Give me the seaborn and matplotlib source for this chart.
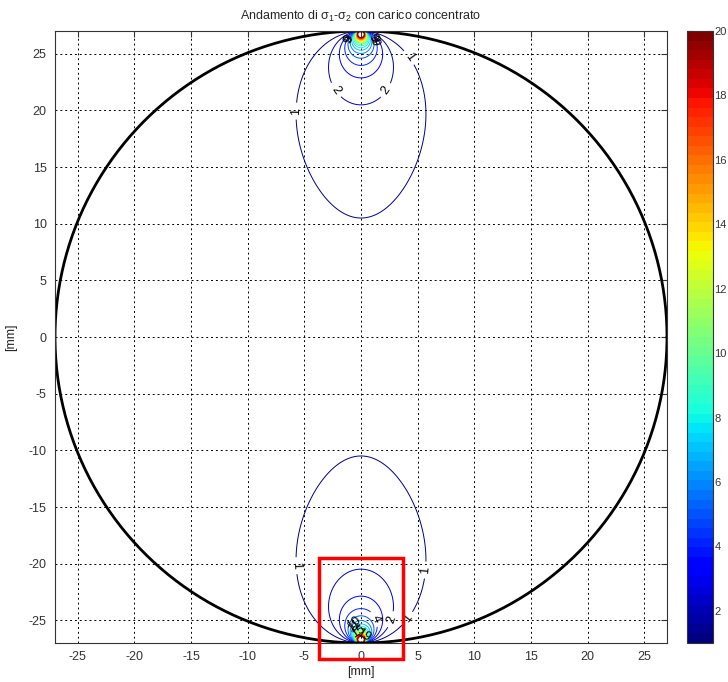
import numpy as np
import pandas as pd
import matplotlib
matplotlib.use("Agg")
import matplotlib.pyplot as plt
import seaborn as sns
from matplotlib.patches import Rectangle
from matplotlib.colors import Normalize

# ---- data / parameters ----
R = 27.0                 # disk radius [mm]
P_over_t = 18.0          # concentrated load per thickness [N/mm]
levels = list(range(1, 21))
tick_vals = [-25, -20, -15, -10, -5, 0, 5, 10, 15, 20, 25]
cbar_ticks = [2, 4, 6, 8, 10, 12, 14, 16, 18, 20]
label_pos_main = [(-8.2, 20.0), (5.3, 25.4), (-3.4, 21.0), (3.3, 21.0),
                  (-8.2, -20.3), (6.1, -20.6), (3.9, -24.7), (2.9, -25.0), (1.4, -24.8)]
label_pos_crowd = [(-1.6, 26.4), (-1.2, 26.4), (1.4, 26.4), (1.0, 26.4), (1.8, 26.2),
                   (-0.5, -25.6), (-0.3, -26.0), (0.2, -26.3), (-0.7, -25.2)]
title = r"Andamento di $\sigma_1$-$\sigma_2$ con carico concentrato"

# ---- stress field (Brazilian disk, diametral concentrated load) ----
g = np.linspace(-R, R, 1201)
X, Y = np.meshgrid(g, g)
K = 2 * P_over_t / np.pi
r1 = X**2 + (R - Y)**2
r2 = X**2 + (R + Y)**2
with np.errstate(divide="ignore", invalid="ignore"):
    sx = -K * ((R - Y) * X**2 / r1**2 + (R + Y) * X**2 / r2**2 - 1 / (2 * R))
    sy = -K * ((R - Y)**3 / r1**2 + (R + Y)**3 / r2**2 - 1 / (2 * R))
    txy = K * ((R - Y)**2 * X / r1**2 - (R + Y)**2 * X / r2**2)
    D = np.sqrt((sx - sy)**2 + 4 * txy**2)
D[X**2 + Y**2 > R**2] = np.nan
D = np.where(np.isfinite(D), D, np.nan)

sns.set_style("white")
plt.rcParams["font.family"] = ["Liberation Sans", "DejaVu Sans"]
plt.rcParams["mathtext.fontset"] = "custom"
plt.rcParams["mathtext.rm"] = "Liberation Sans"
plt.rcParams["mathtext.it"] = "Liberation Sans"
plt.rcParams["axes.unicode_minus"] = False

fig = plt.figure(figsize=(7.28, 6.82), dpi=100)
ax = fig.add_axes([55 / 728, 1 - 643 / 682, 612 / 728, 612 / 682])
cax = fig.add_axes([687 / 728, 1 - 643 / 682, 26 / 728, 612 / 682])

cmap = plt.get_cmap("jet", 64)
norm = Normalize(vmin=1, vmax=20)

cs = ax.contour(X, Y, D, levels=levels, cmap=cmap, norm=norm, linewidths=0.7)
ax.clabel(cs, levels=[1, 2, 3, 4], manual=label_pos_main, inline=True,
          fontsize=9, colors="black", fmt="%d")
ax.clabel(cs, levels=levels[4:], manual=label_pos_crowd, inline=False,
          fontsize=9, colors="black", fmt="%d")

# boundary circle
th = np.linspace(0, 2 * np.pi, 400)
circ = pd.DataFrame({"x": R * np.cos(th), "y": R * np.sin(th)})
sns.lineplot(data=circ, x="x", y="y", sort=False, estimator=None, color="black",
             linewidth=2, ax=ax)

ax.add_patch(Rectangle((-3.7, -28.4), 7.4, 8.9, fill=False, edgecolor="red",
                       linewidth=2.5, clip_on=False, zorder=5))

ax.set_xlim(-R, R)
ax.set_ylim(-R, R)
ax.set_xticks(tick_vals)
ax.set_yticks(tick_vals)
ax.grid(True, color="black", linestyle=(0, (2, 3)), linewidth=0.7)
ax.tick_params(direction="in", labelsize=9, colors="#333333", top=True, right=True,
               length=4, pad=6)
for s in ax.spines.values():
    s.set_color("#333333")
    s.set_linewidth(0.8)
ax.set_xlabel("[mm]", fontsize=9, labelpad=2)
ax.set_ylabel("[mm]", fontsize=9, labelpad=8)
ax.set_title(title, fontsize=9, pad=8)

sm = plt.cm.ScalarMappable(cmap=cmap, norm=norm)
cb = fig.colorbar(sm, cax=cax, ticks=cbar_ticks)
cb.ax.tick_params(labelsize=8, direction="in", left=True, right=True, length=4,
                  colors="#333333", pad=1)
cb.outline.set_edgecolor("#333333")

fig.savefig("out.png", dpi=100)
